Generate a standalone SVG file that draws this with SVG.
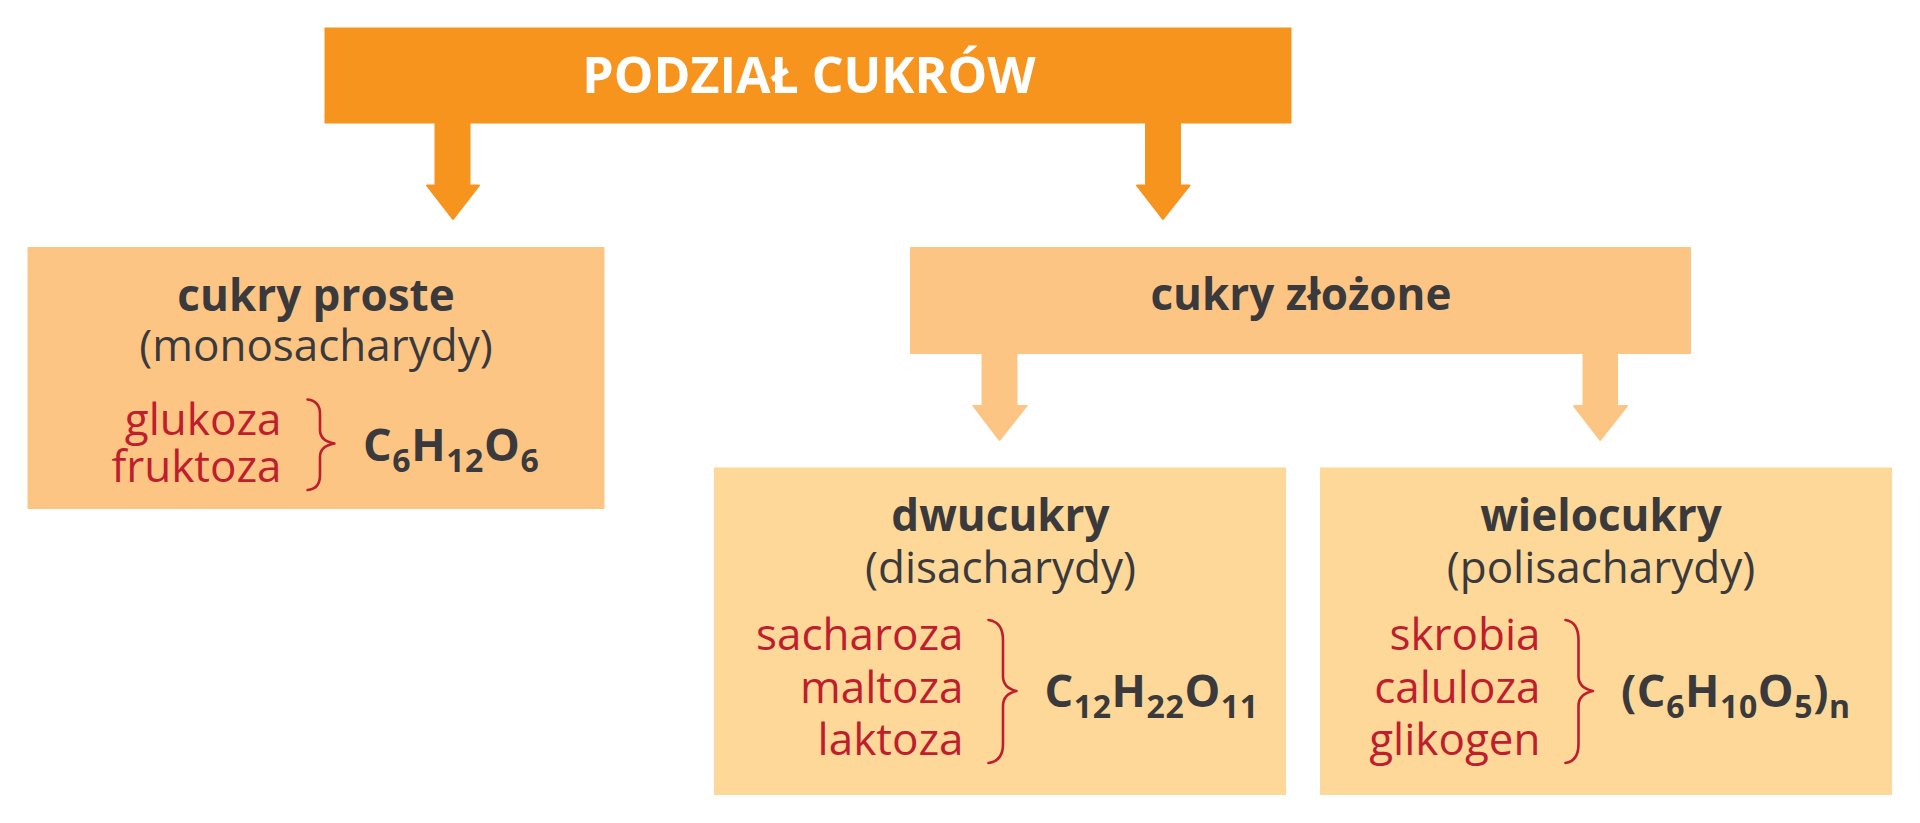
<svg xmlns="http://www.w3.org/2000/svg" width="1920" height="823" viewBox="0 0 1920 823">
<style>
.t{font-family:"Open Sans","Liberation Sans",sans-serif;fill:#3a3a3c}
.b{font-weight:700;font-size:44px}
.r{font-weight:400;font-size:44px}
.f{font-family:"Open Sans","Liberation Sans",sans-serif;fill:#3a3a3c;font-weight:700;font-size:45px;letter-spacing:0.6px}
.red{font-family:"Open Sans","Liberation Sans",sans-serif;font-size:44px;fill:#be1e2d;text-anchor:end}
.m{text-anchor:middle}
.brace{fill:none;stroke:#be1e2d;stroke-width:2.6;stroke-linecap:round;stroke-linejoin:round}
.a1{fill:#f7941e;stroke:#f7941e;stroke-width:2;stroke-linejoin:round}
.a2{fill:#fdc584;stroke:#fdc584;stroke-width:2;stroke-linejoin:round}
</style>
<rect width="1920" height="823" fill="#ffffff"/>
<g id="connectors">
<polygon class="a1" points="435.5,122 469.5,122 469.5,185.5 479,185.5 453,219 427,185.5 435.5,185.5"/>
<polygon class="a1" points="1146,122 1180,122 1180,185.5 1189.5,185.5 1163,219 1137,185.5 1146,185.5"/>
<polygon class="a2" points="982.5,353 1016.5,353 1016.5,406 1026.5,406 999.5,440 973.5,406 982.5,406"/>
<polygon class="a2" points="1583.5,353 1617,353 1617,406 1627,406 1600.2,440 1574,406 1583.5,406"/>
</g>
<g id="root">
<rect x="324.5" y="27.5" width="967" height="96" fill="#f7941e"/>
<text class="t b m" x="809" y="92.5" style="font-size:50px;fill:#ffffff">PODZIAŁ CUKRÓW</text>
</g>
<g id="proste">
<rect x="27.5" y="247" width="577" height="262" fill="#fdc584"/>
<text class="t b m" x="316" y="311">cukry proste</text>
<text class="t r m" x="316" y="361">(monosacharydy)</text>
<text class="red" x="281.5" y="435">glukoza</text>
<text class="red" x="281.5" y="482">fruktoza</text>
<path class="brace" d="M307.5,399.5 Q320,401 320,414 L320,430 Q320,441 334.5,443.5 Q320,446 320,457 L320,475 Q320,489 307.5,490"/>
<text class="f" x="363" y="461">C<tspan font-size="32" dy="10.5">6</tspan><tspan dy="-10.5">H</tspan><tspan font-size="32" dy="10.5">12</tspan><tspan dy="-10.5">O</tspan><tspan font-size="32" dy="10.5">6</tspan></text>
</g>
<g id="zlozone">
<rect x="910" y="247" width="781" height="107" fill="#fdc584"/>
<text class="t b m" x="1301" y="310">cukry złożone</text>
</g>
<g id="dwucukry">
<rect x="714" y="467.5" width="572" height="327.5" fill="#fdd898"/>
<text class="t b m" x="1000.5" y="531">dwucukry</text>
<text class="t r m" x="1000.5" y="583">(disacharydy)</text>
<text class="red" x="963.5" y="650">sacharoza</text>
<text class="red" x="963.5" y="702.5">maltoza</text>
<text class="red" x="963.5" y="755">laktoza</text>
<path class="brace" d="M988.5,620 Q1003,622 1003,640 L1003,676 Q1003,688 1016.5,691 Q1003,694 1003,706 L1003,744 Q1003,761 988.5,763"/>
<text class="f" x="1044.5" y="707">C<tspan font-size="32" dy="10.5">12</tspan><tspan dy="-10.5">H</tspan><tspan font-size="32" dy="10.5">22</tspan><tspan dy="-10.5">O</tspan><tspan font-size="32" dy="10.5">11</tspan></text>
</g>
<g id="wielocukry">
<rect x="1320" y="467.5" width="572" height="327.5" fill="#fdd898"/>
<text class="t b m" x="1601" y="531">wielocukry</text>
<text class="t r m" x="1601" y="583">(polisacharydy)</text>
<text class="red" x="1540.5" y="650">skrobia</text>
<text class="red" x="1540.5" y="702.5">caluloza</text>
<text class="red" x="1540.5" y="755">glikogen</text>
<path class="brace" d="M1565.5,620 Q1578.5,622 1578.5,640 L1578.5,676 Q1578.5,688 1593,691 Q1578.5,694 1578.5,706 L1578.5,744 Q1578.5,761 1565.5,763"/>
<text class="f" x="1621" y="707">(C<tspan font-size="32" dy="10.5">6</tspan><tspan dy="-10.5">H</tspan><tspan font-size="32" dy="10.5">10</tspan><tspan dy="-10.5">O</tspan><tspan font-size="32" dy="10.5">5</tspan><tspan dy="-10.5">)</tspan><tspan font-size="32" dy="10.5">n</tspan></text>
</g>
</svg>
